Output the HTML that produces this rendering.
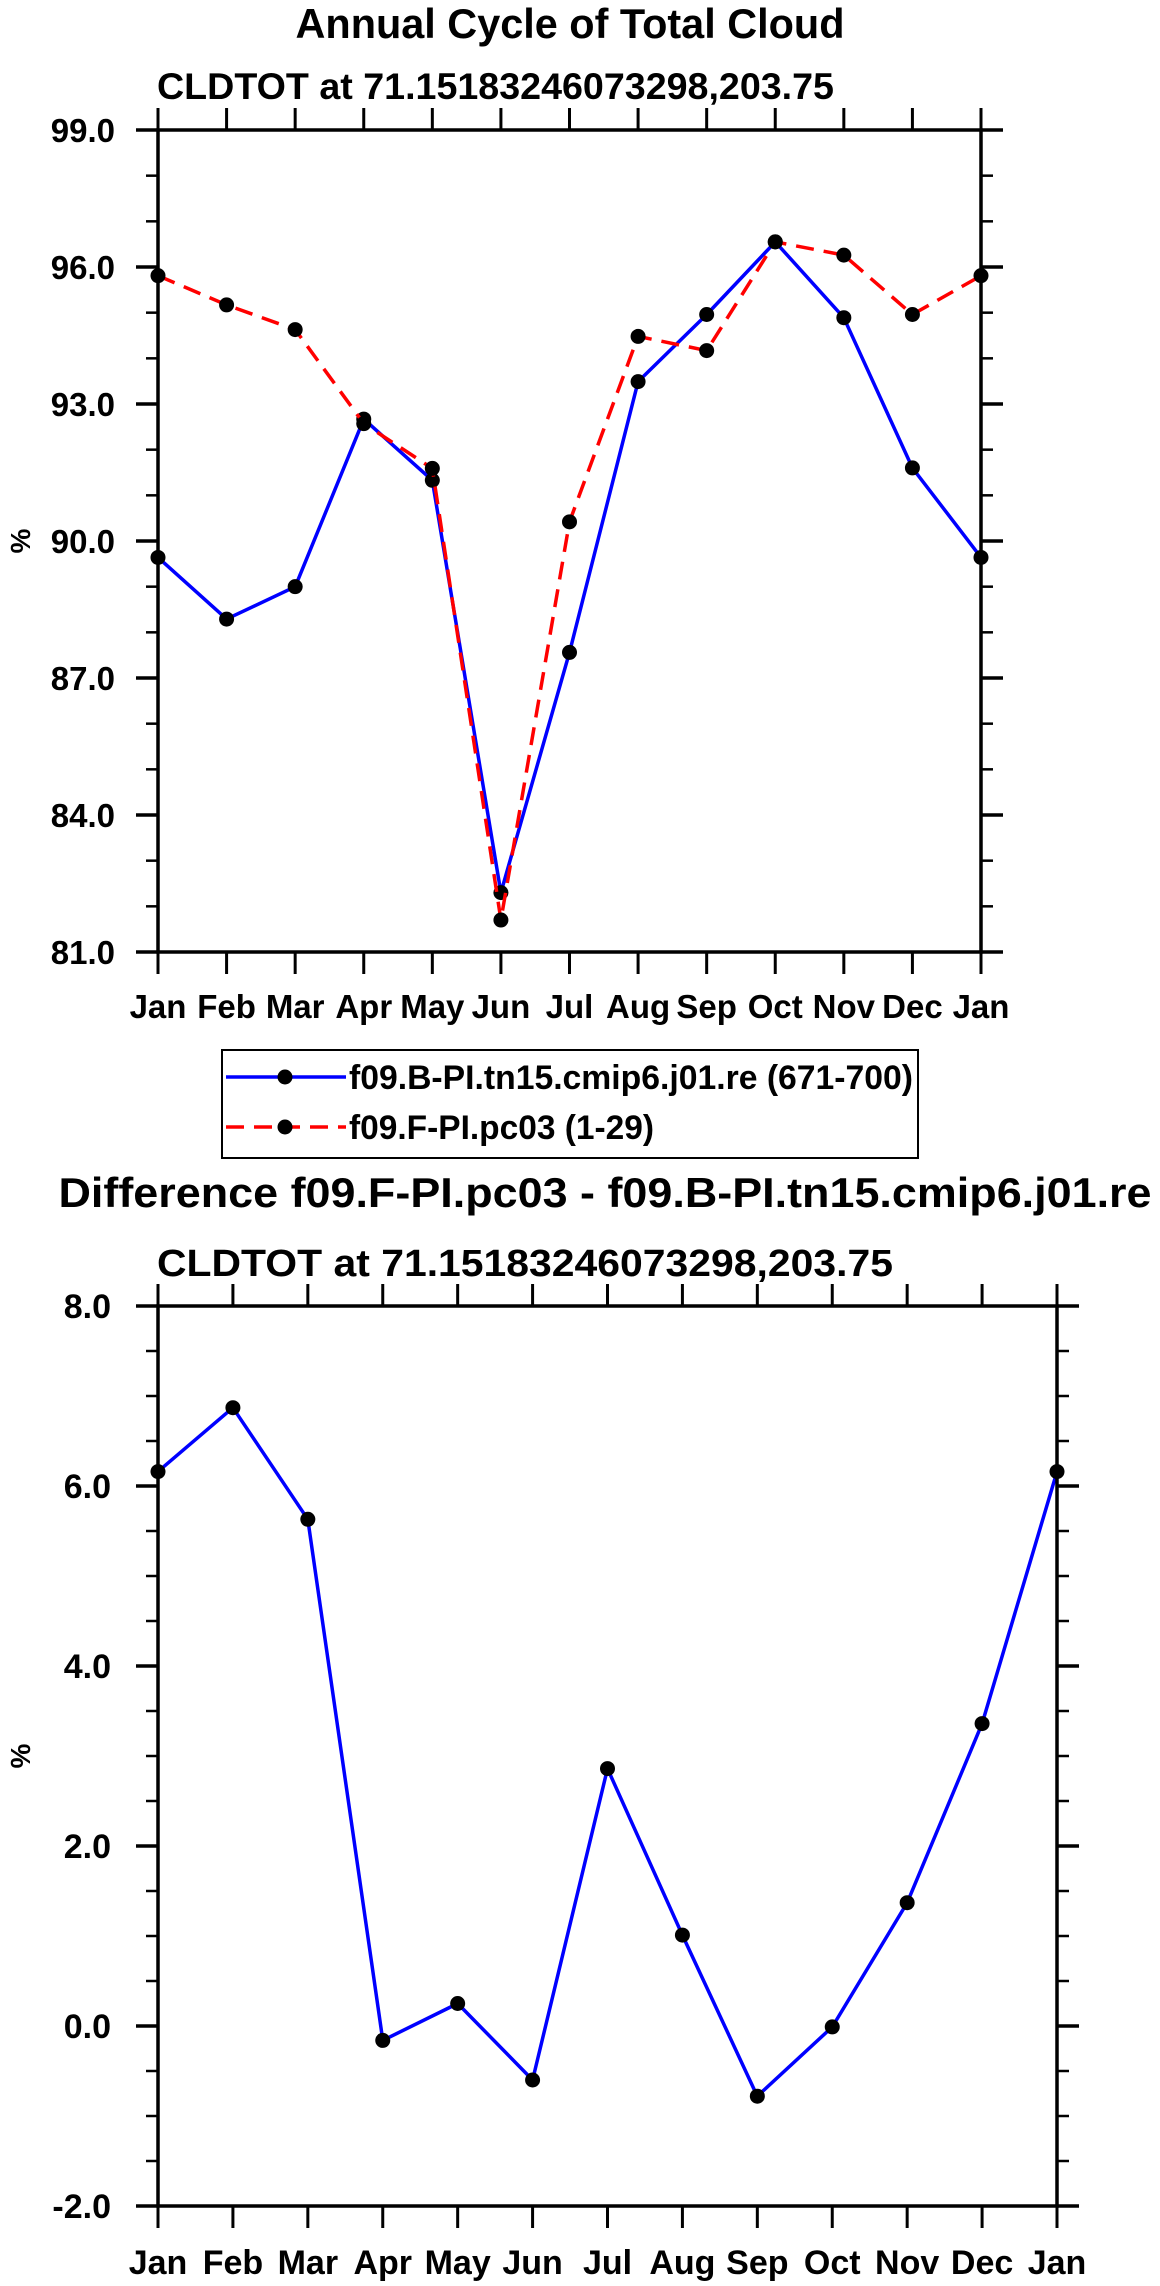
<!DOCTYPE html>
<html><head><meta charset="utf-8"><style>
html,body{margin:0;padding:0;background:#fff;}
svg{display:block;font-family:"Liberation Sans",Arial,sans-serif;font-weight:bold;}
</style></head><body>
<svg id="s" width="1160" height="2286" viewBox="0 0 1160 2286" xmlns="http://www.w3.org/2000/svg">
<text x="570" y="38" font-size="42" text-anchor="middle" textLength="549" lengthAdjust="spacingAndGlyphs">Annual Cycle of Total Cloud</text>
<text x="157" y="99" font-size="37" textLength="677" lengthAdjust="spacingAndGlyphs">CLDTOT at 71.15183246073298,203.75</text>
<text x="605" y="1207" font-size="42" text-anchor="middle" textLength="1093" lengthAdjust="spacingAndGlyphs">Difference f09.F-PI.pc03 - f09.B-PI.tn15.cmip6.j01.re</text>
<text x="157" y="1276" font-size="38" textLength="736" lengthAdjust="spacingAndGlyphs">CLDTOT at 71.15183246073298,203.75</text>
<g>
<rect x="222" y="1050" width="696" height="108" fill="none" stroke="#000" stroke-width="2"/>
<g>
<line x1="226" y1="1077" x2="346" y2="1077" stroke="#0000ff" stroke-width="3.5"/>
<circle cx="285" cy="1077" r="7.5" fill="#000"/>
<text x="349" y="1089" font-size="34" textLength="564" lengthAdjust="spacingAndGlyphs">f09.B-PI.tn15.cmip6.j01.re (671-700)</text>
</g>
<g>
<line x1="226" y1="1127" x2="346" y2="1127" stroke="#ff0000" stroke-width="3.5" stroke-dasharray="18,10"/>
<circle cx="285" cy="1127" r="7.5" fill="#000"/>
<text x="349" y="1139" font-size="34" textLength="305" lengthAdjust="spacingAndGlyphs">f09.F-PI.pc03 (1-29)</text>
</g>
</g>
</svg>
<script>
const months = ["Jan","Feb","Mar","Apr","May","Jun","Jul","Aug","Sep","Oct","Nov","Dec","Jan"];
const bpiValues = [89.64,88.29,89.0,92.67,91.33,82.3,87.56,93.49,94.96,96.55,94.89,91.6,89.64];
const fpiValues = [95.81,95.17,94.63,92.57,91.59,81.7,90.42,94.48,94.17,96.55,96.26,94.96,95.81];
const diffValues = [6.16,6.87,5.63,-0.16,0.25,-0.60,2.86,1.01,-0.78,-0.01,1.37,3.36,6.16];
const topYTicks = ["81.0","84.0","87.0","90.0","93.0","96.0","99.0"];
const botYTicks = ["-2.0","0.0","2.0","4.0","6.0","8.0"];

const NS = "http://www.w3.org/2000/svg";
const svg = document.getElementById("s");
function mk(tag, attrs, parent){const e=document.createElementNS(NS,tag);for(const k in attrs)e.setAttribute(k,attrs[k]);(parent||svg).appendChild(e);return e;}

function drawChart(cfg){
  const g = mk("g",{});
  
  
  const {L,R,T,B,ymin,ymax} = cfg;
  const xs = i => L + (R-L)*i/(months.length-1);
  const ys = v => B - (B-T)*(v-ymin)/(ymax-ymin);
  cfg.series.forEach(s=>{
    const pts = s.vals.map((v,i)=>xs(i).toFixed(1)+","+ys(v).toFixed(1)).join(" ");
    const pl = mk("polyline",{points:pts,fill:"none",stroke:s.color,"stroke-width":3.5,"stroke-linejoin":"round"},g);
    if(s.dash) pl.setAttribute("stroke-dasharray", s.dash);
    
    
    s.vals.forEach((v,i)=>{
      const c = mk("circle",{cx:xs(i),cy:ys(v),r:7.5,fill:"#000"},g);
      
      
    });
  });
  const fr = mk("rect",{x:L,y:T,width:R-L,height:B-T,fill:"none",stroke:"#000","stroke-width":3.5},g);
  
  
  months.forEach((m,i)=>{
    const x = xs(i);
    mk("line",{x1:x,y1:B,x2:x,y2:B+22,stroke:"#000","stroke-width":3},g);
    mk("line",{x1:x,y1:T,x2:x,y2:T-22,stroke:"#000","stroke-width":3},g);
    const t = mk("text",{x:x,y:cfg.xlabY,"font-size":cfg.fs,"text-anchor":"middle"},g);
    t.textContent = m;
    
    
  });
  for(let v=ymin; v<=ymax+1e-9; v+=cfg.minor){
    const y = ys(v);
    const isMaj = Math.abs((v-ymin)/cfg.major - Math.round((v-ymin)/cfg.major))<1e-6;
    const len = isMaj?22:12;
    mk("line",{x1:L-len,y1:y,x2:L,y2:y,stroke:"#000","stroke-width":isMaj?3.5:2.5},g);
    mk("line",{x1:R,y1:y,x2:R+len,y2:y,stroke:"#000","stroke-width":isMaj?3.5:2.5},g);
  }
  cfg.yticks.forEach(lbl=>{
    const y = ys(parseFloat(lbl));
    const t = mk("text",{x:cfg.ylabX,y:y+12,"font-size":cfg.fs,"text-anchor":"end"},g);
    t.textContent = lbl;
    
    
  });
  const yt = mk("text",{x:0,y:0,"font-size":28,"text-anchor":"middle",transform:`translate(30,${(T+B)/2}) rotate(-90)`},g);
  yt.textContent = "%";
  
  
}

drawChart({name:"annual-cycle-chart",L:158,R:981,T:130,B:952,ymin:81,ymax:99,major:3,minor:1,
  yticks:topYTicks,ylabX:115,xlabY:1018,fs:33,
  series:[{name:"b-pi",vals:bpiValues,color:"#0000ff"},{name:"f-pi",vals:fpiValues,color:"#ff0000",dash:"18,10"}]});
drawChart({name:"difference-chart",L:158,R:1057,T:1306,B:2206,ymin:-2,ymax:8,major:2,minor:0.5,
  yticks:botYTicks,ylabX:111,xlabY:2274,fs:34,
  series:[{name:"difference",vals:diffValues,color:"#0000ff"}]});
</script>
</body></html>
